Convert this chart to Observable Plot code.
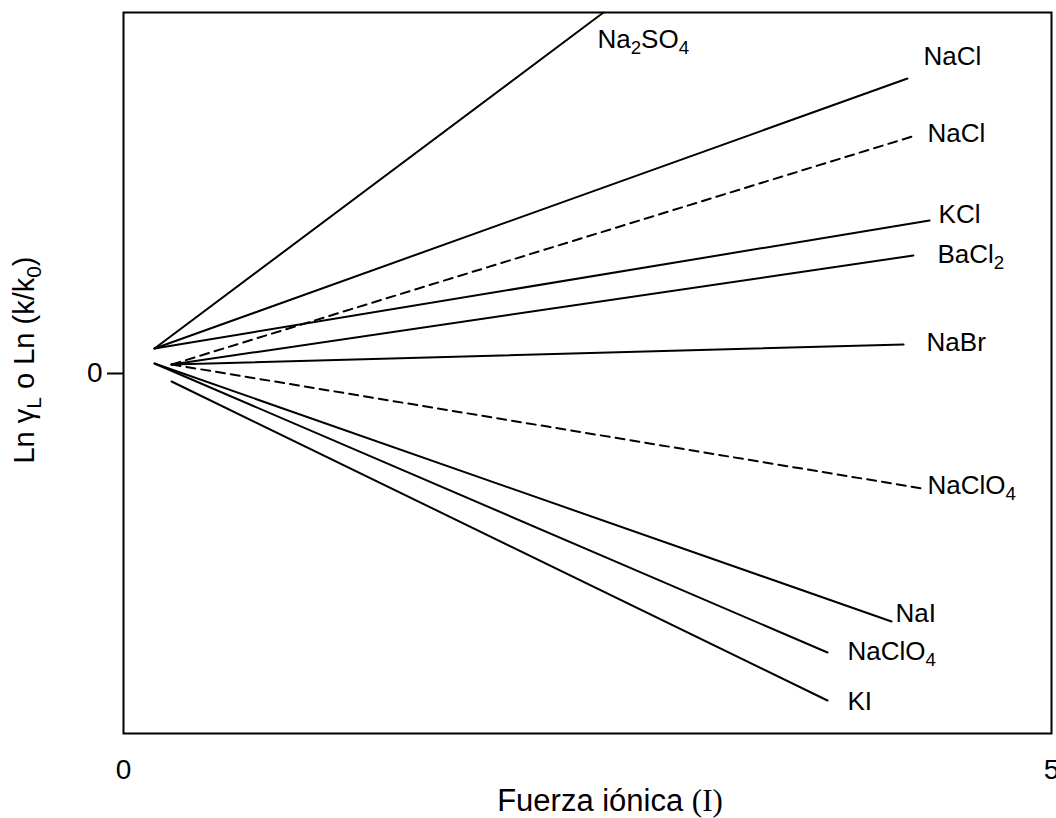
<!DOCTYPE html>
<html>
<head>
<meta charset="utf-8">
<script src="https://cdn.jsdelivr.net/npm/d3@7"></script>
<script src="https://cdn.jsdelivr.net/npm/@observablehq/plot@0.6"></script>
<style>
  html, body { margin: 0; padding: 0; background: #fff; }
  #chart { width: 1056px; height: 818px; }
</style>
</head>
<body>
<div id="chart"></div>
<script>
// ---- data ----
const series  = ["Na2SO4", "NaCl", "NaCl (dashed)", "KCl", "BaCl2", "NaBr", "NaClO4 (dashed)", "NaI", "NaClO4", "KI"];
const labels  = ["Na_2SO_4", "NaCl", "NaCl", "KCl", "BaCl_2", "NaBr", "NaClO_4", "NaI", "NaClO_4", "KI"];
const dashed  = [false, false, true, false, false, false, true, false, false, false];
const xStart  = [0.167, 0.167, 0.259, 0.167, 0.259, 0.259, 0.259, 0.167, 0.167, 0.259];
const yStart  = [0.25, 0.25, 0.09, 0.25, 0.09, 0.09, 0.09, 0.10, 0.10, -0.08];
const xEnd    = [2.586, 4.224, 4.267, 4.343, 4.256, 4.203, 4.305, 4.138, 3.793, 3.793];
const yEnd    = [3.61, 2.95, 2.38, 1.53, 1.18, 0.29, -1.15, -2.48, -2.79, -3.27];
const xTicks  = [0, 5];
const yTicks  = [0];
const xTitle  = "Fuerza iónica ";
const xTitleSerif = "(I)";
const yTitle  = "Ln γ_L o Ln (k/k_0)";

// label offsets (px) from each line's end
const labelDx = [-6, 16, 12, 9, 24, 23, 5, 4, 20, 20];
const labelDy = [27, -22, -2, -6, -1, -2, -3, -8, -1, 1];

// ---- build tables ----
const rows = [];
series.forEach((s, i) => {
  rows.push({s, dashed: dashed[i], x: xStart[i], y: yStart[i]});
  rows.push({s, dashed: dashed[i], x: xEnd[i], y: yEnd[i]});
});
const ends = series.map((s, i) => ({s, label: labels[i], x: xEnd[i], y: yEnd[i], i}));

const FONT = "'Liberation Sans', Arial, Helvetica, sans-serif";

const marks = [
  Plot.line(rows.filter(d => !d.dashed), {x: "x", y: "y", z: "s", stroke: "black", strokeWidth: 2}),
  Plot.line(rows.filter(d => d.dashed), {x: "x", y: "y", z: "s", stroke: "black", strokeWidth: 2, strokeDasharray: "9,6"}),
  Plot.frame({stroke: "black", strokeWidth: 2}),
  Plot.axisX(xTicks, {tickSize: 0, tickPadding: 26, fontSize: 28, label: null, tickFormat: d3.format("d")}),
  Plot.axisY(yTicks, {tickSize: 16, tickPadding: 5, fontSize: 28, strokeWidth: 2, label: null, tickFormat: d3.format("d")})
];
ends.forEach(d => {
  marks.push(Plot.text([d], {x: "x", y: "y", text: "label", textAnchor: "start",
    dx: labelDx[d.i], dy: labelDy[d.i], fontSize: 26, fill: "black"}));
});

const svg = Plot.plot({
  width: 1056,
  height: 818,
  marginLeft: 123,
  marginRight: 5,
  marginTop: 12,
  marginBottom: 85,
  style: {fontFamily: FONT, fontSize: "26px", background: "white", color: "black"},
  x: {domain: [0, 5]},
  y: {domain: [-3.6, 3.61]},
  marks
});

const NS = "http://www.w3.org/2000/svg";
function subscriptify(el, str, shift) {
  el.textContent = "";
  const parts = str.split(/(_[^_\s])/).filter(p => p);
  let down = false;
  for (const p of parts) {
    const t = document.createElementNS(NS, "tspan");
    if (p.startsWith("_")) {
      t.textContent = p.slice(1);
      t.setAttribute("font-size", "72%");
      t.setAttribute("dy", shift);
      down = true;
    } else {
      t.textContent = p;
      if (down) { t.setAttribute("dy", -shift); down = false; }
    }
    el.appendChild(t);
  }
}
d3.select(svg).selectAll("text").each(function() {
  const s = this.textContent;
  if (s.includes("_")) subscriptify(this, s, 6);
});

// axis titles
const sel = d3.select(svg);
const xt = sel.append("text")
  .attr("x", 610).attr("y", 811)
  .attr("text-anchor", "middle")
  .attr("font-size", 31)
  .attr("font-family", FONT)
  .attr("fill", "black");
xt.append("tspan").text(xTitle);
xt.append("tspan").attr("font-family", "'Liberation Serif', 'Times New Roman', serif").text(xTitleSerif);

const yt = sel.append("text")
  .attr("transform", "translate(34,360) rotate(-90)")
  .attr("text-anchor", "middle")
  .attr("font-size", 29)
  .attr("font-family", FONT)
  .attr("fill", "black");
subscriptify(yt.node(), yTitle, 7);

document.getElementById("chart").appendChild(svg);
</script>
</body>
</html>
